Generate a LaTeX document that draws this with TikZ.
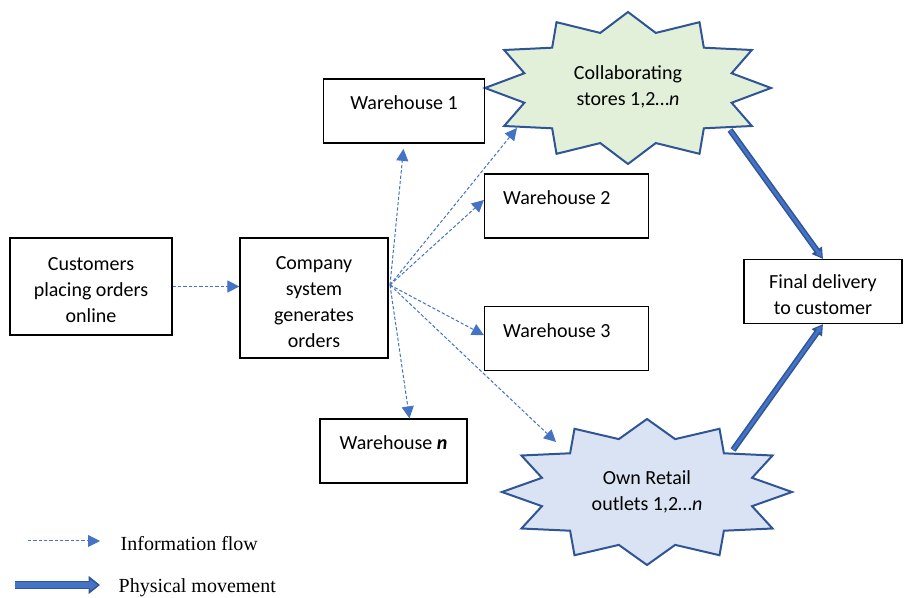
\documentclass[tikz,border=0pt]{standalone}
\usepackage{fontspec}
\setmainfont{Carlito}
\newfontfamily\legendfont{Liberation Serif}
\usetikzlibrary{arrows.meta}
\definecolor{stardark}{HTML}{2F5597}
\definecolor{infoblue}{HTML}{4472C4}
\definecolor{collabgreen}{HTML}{E2F0D9}
\definecolor{retailblue}{HTML}{DAE3F3}
\newcommand\topgap{\rule{0pt}{15.5pt}}

\begin{document}
\begin{tikzpicture}[
  x=0.75pt, y=-0.75pt,
  every node/.style={font=\fontsize{15}{19.5}\selectfont, align=center},
  box/.style={rectangle, draw=black, line width=0.9pt, inner sep=2pt},
  whbox/.style={box, minimum width=123pt, minimum height=48pt,
    text height=10.5pt, text depth=12pt},
  burst/.style={draw=stardark, line width=1.5pt, line join=miter},
  info/.style={draw=infoblue, line width=0.75pt, dash pattern=on 2.5pt off 1.5pt,
    -{Triangle[length=9pt,width=9pt]}},
  phys/.style={draw=stardark, line width=4.5pt, -{Triangle[length=8pt,width=9pt]},
    postaction={draw=infoblue, line width=2.2pt, shorten >=1.6pt,
      -{Triangle[length=4.5pt,width=4.5pt]}}},
  physbig/.style={draw=stardark, line width=6.5pt, -{Triangle[length=8.5pt,width=13pt]},
    postaction={draw=infoblue, line width=4pt, shorten >=1.8pt,
      -{Triangle[length=6pt,width=8.5pt]}}},
  legend/.style={anchor=west, font=\legendfont\fontsize{15}{18}\selectfont}
]
\useasboundingbox (0,0) rectangle (904,598);

% the two stars
\draw[burst, fill=collabgreen] plot[samples at={0,...,23}, variable=\k]
  ({628+143*(mod(\k,2)==0 ? 1 : 0.75)*cos(15*\k)},
   {88-76*(mod(\k,2)==0 ? 1 : 0.75)*sin(15*\k)}) -- cycle;
\draw[burst, fill=retailblue] plot[samples at={0,...,23}, variable=\k]
  ({647+145*(mod(\k,2)==0 ? 1 : 0.75)*cos(15*\k)},
   {492-73*(mod(\k,2)==0 ? 1 : 0.75)*sin(15*\k)}) -- cycle;
\node (collab) at (628,87) {Collaborating\\stores 1,2…\textit{n}};
\node (retail) at (647,492) {Own Retail\\outlets 1,2…\textit{n}};
\coordinate (collab in) at (517,128);
\coordinate (collab out) at (730,130);
\coordinate (retail in) at (556,442);
\coordinate (retail out) at (733,450);

% boxes
\node[box, minimum width=121.5pt, minimum height=72.75pt] (cust) at (91,286.5)
  {\topgap Customers\\placing orders\\online};
\node[box, minimum width=111pt, minimum height=90pt] (comp) at (314,298)
  {\topgap Company\\system\\generates\\orders};
\node[whbox, minimum width=120.75pt] (wh1) at (404,111) {Warehouse 1};
\node[whbox, text width=95pt, align=flush left] (wh2) at (566.5,206) {Warehouse 2};
\node[whbox, text width=95pt, align=flush left] (wh3) at (566.5,338.5) {Warehouse 3};
\node[whbox, minimum width=110.25pt] (whn) at (393.5,451)
  {Warehouse \textbf{\textit{n}}};
\node[box, minimum width=118.5pt, minimum height=48pt] (final) at (823,291.5)
  {\topgap Final delivery\\to customer};

% information flow
\coordinate (hub) at (390,285);
\draw[info] (cust.east) -- (cust.east -| comp.west);
\draw[info, shorten >=4pt] (hub) -- (wh1.south);
\draw[info] (hub) -- (collab in);
\draw[info] (hub) -- ([yshift=4.5pt]wh2.west);
\draw[info] (hub) -- ([yshift=2.5pt]wh3.west);
\draw[info] (hub) -- ([xshift=12pt]whn.north);
\draw[info] (hub) -- (retail in);

% physical movement
\draw[phys] (collab out) -- (final.north);
\draw[phys] (retail out) -- (final.south);

% legend
\coordinate (info start) at (28,541);
\coordinate (info end) at (100,541);
\coordinate (phys start) at (15,585);
\coordinate (phys end) at (100,585);
\draw[info] (info start) -- (info end);
\draw[physbig] (phys start) -- (phys end);
\node[legend] (infolabel) at (116,544) {Information flow};
\node[legend] (physlabel) at (114,588) {Physical movement};
\end{tikzpicture}
\end{document}
